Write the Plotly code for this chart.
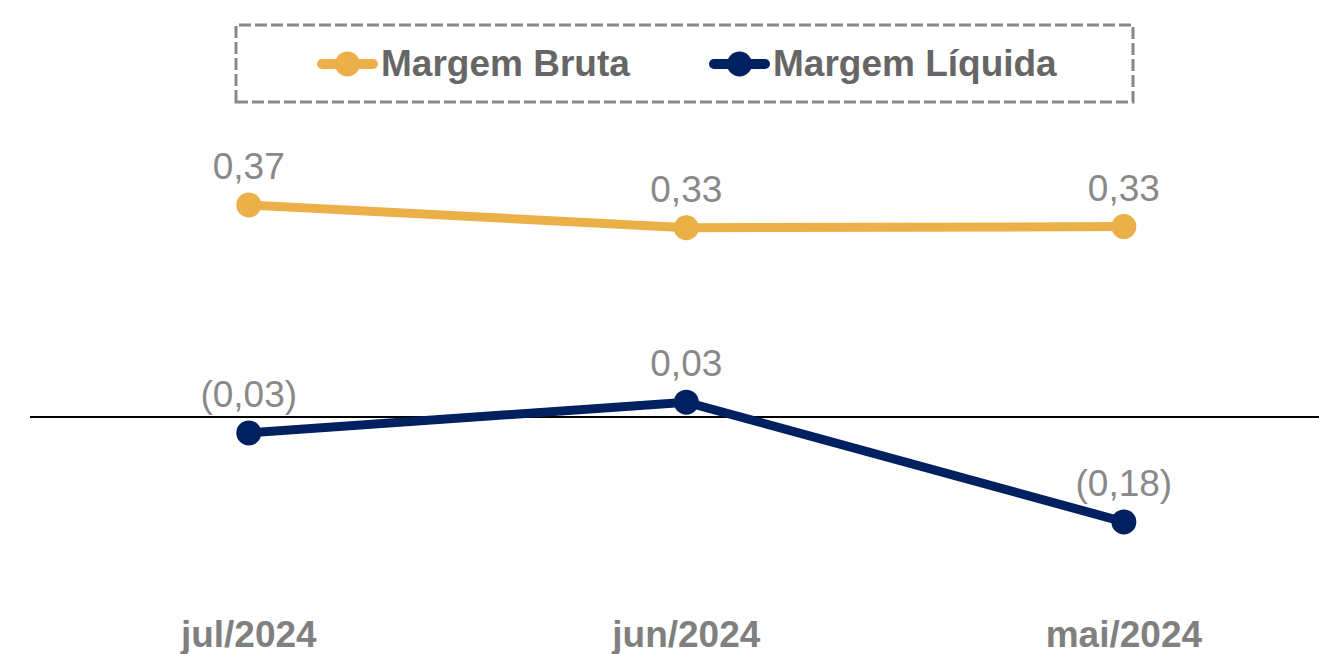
import plotly.graph_objects as go

categories = ["jul/2024", "jun/2024", "mai/2024"]
margem_bruta = [0.372, 0.332, 0.334]
margem_liquida = [-0.028, 0.026, -0.184]
labels_bruta = ["0,37", "0,33", "0,33"]
labels_liquida = ["(0,03)", "0,03", "(0,18)"]
series_names = ["Margem Bruta", "Margem Líquida"]

FONT = "Liberation Sans, Arial, sans-serif"
C_BRUTA = "#EBB047"
C_LIQ = "#002060"
colors = [C_BRUTA, C_LIQ]

W, H = 1319, 654
ML, MR, MT, MB = 30, 0, 130, 54
PW, PH = W - ML - MR, H - MT - MB
zero_px = 417
scale = 570.0
y_top = (zero_px - MT) / scale
y_bot = -((H - MB) - zero_px) / scale


def px_x(p):
    return (p - ML) / PW


def px_y(p):
    return ((H - MB) - p) / PH


fig = go.Figure()
for vals, labs, name, col in [
    (margem_bruta, labels_bruta, series_names[0], C_BRUTA),
    (margem_liquida, labels_liquida, series_names[1], C_LIQ),
]:
    fig.add_trace(go.Scatter(
        x=categories, y=vals, name=name,
        mode="lines+markers+text", text=labs, textposition="top center",
        textfont=dict(family=FONT, size=37, color="#898989"),
        line=dict(color=col, width=9), marker=dict(color=col, size=25),
        cliponaxis=False, hoverinfo="skip", showlegend=False,
    ))

# dashed legend frame
fig.add_shape(
    type="rect", xref="paper", yref="paper",
    x0=px_x(236), x1=px_x(1133), y0=px_y(102), y1=px_y(25),
    line=dict(color="#888888", width=3, dash="12px,4px"), fillcolor="rgba(0,0,0,0)",
)

# legend entries (symbol + text)
leg_y = 64
leg_items = [(347.5, 380), (739.5, 772)]
for (cx, tx), name, col in zip(leg_items, series_names, colors):
    ax, ay = px_x(cx), px_y(leg_y)
    common = dict(xref="paper", yref="paper", xsizemode="pixel", ysizemode="pixel",
                  xanchor=ax, yanchor=ay, line=dict(width=0), fillcolor=col,
                  layer="above")
    # bar
    fig.add_shape(type="rect", x0=-25.5, x1=25.5, y0=-5, y1=5, **common)
    # round caps
    fig.add_shape(type="circle", x0=-30.5, x1=-20.5, y0=-5, y1=5, **common)
    fig.add_shape(type="circle", x0=20.5, x1=30.5, y0=-5, y1=5, **common)
    # marker
    fig.add_shape(type="circle", x0=-12.5, x1=12.5, y0=-12.5, y1=12.5, **common)
    fig.add_annotation(
        xref="paper", yref="paper", x=px_x(tx - 1), y=px_y(leg_y),
        xanchor="left", yanchor="middle", showarrow=False, text=name,
        font=dict(family=FONT, size=37, color="#666666", weight="bold"),
    )

fig.update_layout(
    width=W, height=H,
    margin=dict(l=ML, r=MR, t=MT, b=MB),
    paper_bgcolor="white", plot_bgcolor="white",
    showlegend=False,
    xaxis=dict(
        type="category", range=[-0.5, 2.446], showgrid=False, showline=False,
        zeroline=False, ticks="", ticklabelstandoff=9,
        tickfont=dict(family=FONT, size=37, color="#808080", weight="bold"),
    ),
    yaxis=dict(
        range=[y_bot, y_top], showgrid=False, showticklabels=False, ticks="",
        zeroline=True, zerolinecolor="#000000", zerolinewidth=2, showline=False,
    ),
)

fig.write_html("out.html", config={"displayModeBar": False},
               post_script="document.body.style.margin='0';")
